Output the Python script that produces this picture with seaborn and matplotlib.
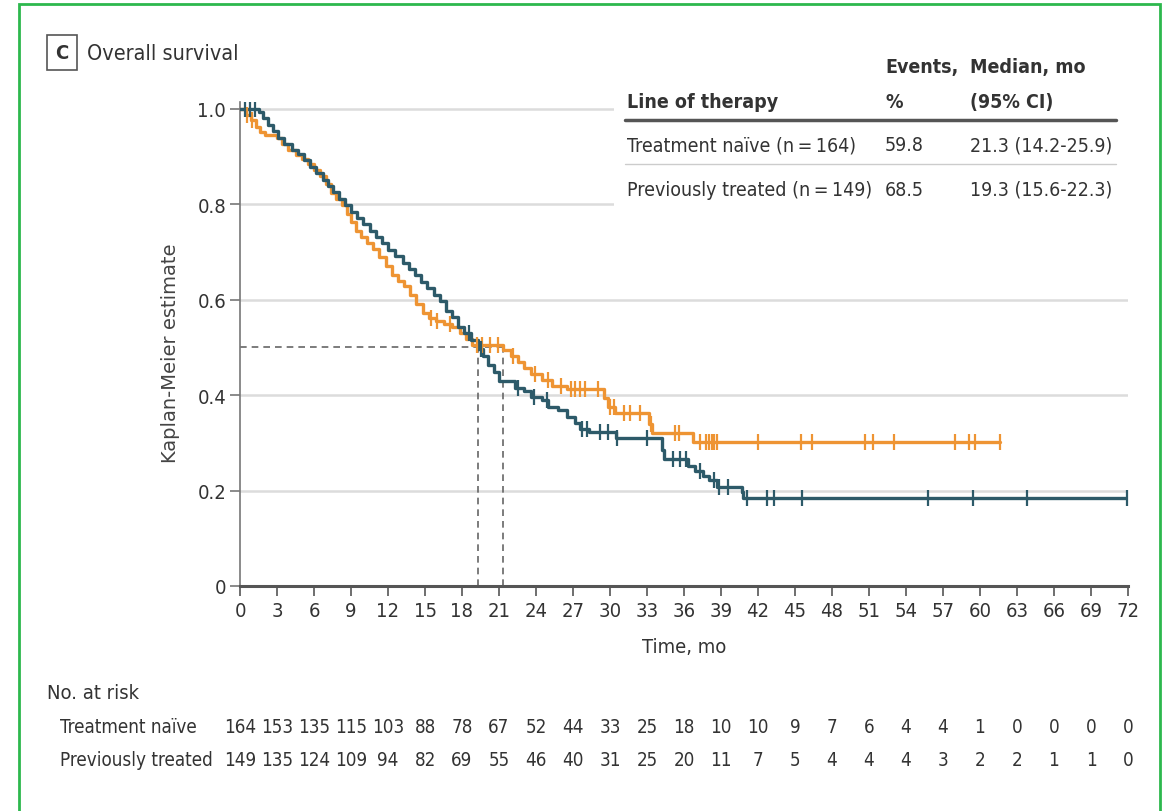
import numpy as np
import pandas as pd
import matplotlib
matplotlib.use("Agg")
import matplotlib.pyplot as plt
import matplotlib.transforms as mtransforms
from matplotlib.patches import Rectangle
from matplotlib import font_manager
import seaborn as sns

# ---------------- data ----------------
groups = ["Treatment naïve", "Previously treated"]

naive_time = [0, 0.5, 0.9, 1.3, 1.6, 2.0, 3.0, 3.4, 3.9, 4.5, 5.0, 5.5, 6.0, 6.5, 7.0, 7.4, 7.8,
              8.3, 8.7, 9.0, 9.4, 9.8, 10.3, 10.8, 11.3, 11.8, 12.3, 12.8, 13.3, 13.8, 14.3, 14.8,
              15.3, 15.9, 16.5, 17.2, 17.8, 18.3, 18.8, 21.3, 22.0, 22.5, 23.0, 23.6, 24.5, 25.3,
              26.5, 29.5, 29.8, 30.4, 33.2, 33.4, 36.7, 61.6]
naive_surv = [1.0, 0.988, 0.976, 0.963, 0.951, 0.945, 0.939, 0.927, 0.915, 0.903, 0.896, 0.884,
              0.872, 0.860, 0.842, 0.823, 0.811, 0.799, 0.780, 0.762, 0.744, 0.732, 0.720, 0.707,
              0.689, 0.671, 0.652, 0.640, 0.628, 0.610, 0.591, 0.573, 0.561, 0.555, 0.549, 0.543,
              0.530, 0.518, 0.506, 0.494, 0.482, 0.469, 0.457, 0.445, 0.432, 0.420, 0.414, 0.395,
              0.375, 0.362, 0.340, 0.321, 0.302, 0.302]
naive_censor = [0.6, 1.0, 15.5, 16.0, 17.0, 19.2, 19.6, 20.3, 20.9, 22.1, 23.9, 25.0, 26.0, 26.8,
                27.2, 27.6, 28.0, 29.0, 30.0, 30.3, 31.1, 31.6, 32.4, 33.3, 35.3, 35.6, 37.3, 37.8,
                38.0, 38.3, 38.4, 38.7, 42.0, 45.5, 46.4, 50.7, 51.3, 53.0, 58.0, 59.1, 59.6, 61.6]

treated_time = [0, 1.5, 1.9, 2.3, 2.7, 3.1, 3.6, 4.2, 4.7, 5.2, 5.7, 6.2, 6.7, 7.1, 7.5, 8.0, 8.5,
                9.0, 9.5, 10.0, 10.5, 11.0, 11.5, 12.0, 12.6, 13.2, 13.7, 14.2, 14.7, 15.2, 15.7,
                16.2, 16.7, 17.2, 17.7, 18.2, 18.7, 19.3, 19.7, 20.1, 20.6, 21.0, 22.3, 23.0, 23.6,
                24.5, 25.0, 25.8, 26.5, 27.2, 27.6, 28.3, 30.5, 34.2, 34.4, 36.3, 36.9, 37.5, 38.0,
                38.7, 40.7, 40.8, 71.9]
treated_surv = [1.0, 0.993, 0.980, 0.966, 0.953, 0.940, 0.926, 0.913, 0.906, 0.893, 0.879, 0.866,
                0.852, 0.839, 0.826, 0.812, 0.799, 0.785, 0.772, 0.758, 0.745, 0.731, 0.718, 0.705,
                0.691, 0.678, 0.664, 0.651, 0.637, 0.624, 0.610, 0.597, 0.577, 0.563, 0.543, 0.530,
                0.516, 0.496, 0.483, 0.463, 0.449, 0.429, 0.416, 0.409, 0.396, 0.389, 0.376, 0.369,
                0.355, 0.342, 0.329, 0.322, 0.310, 0.285, 0.266, 0.252, 0.241, 0.230, 0.222, 0.208,
                0.196, 0.185, 0.185]
treated_censor = [0.4, 0.8, 1.2, 18.6, 19.5, 22.5, 23.8, 24.9, 27.7, 28.1, 29.2, 29.8, 30.6, 33.0,
                  35.1, 35.7, 36.2, 37.3, 38.4, 38.8, 39.6, 41.1, 42.7, 43.3, 45.6, 55.8, 59.4,
                  63.8, 71.9]

medians = [21.3, 19.3]
events_pct = ["59.8", "68.5"]
median_ci = ["21.3 (14.2-25.9)", "19.3 (15.6-22.3)"]
n_total = [164, 149]

risk_times = list(range(0, 73, 3))
risk_naive = [164, 153, 135, 115, 103, 88, 78, 67, 52, 44, 33, 25, 18, 10, 10, 9, 7, 6, 4, 4, 1, 0, 0, 0, 0]
risk_treated = [149, 135, 124, 109, 94, 82, 69, 55, 46, 40, 31, 25, 20, 11, 7, 5, 4, 4, 4, 3, 2, 2, 1, 1, 0]

# ---------------- style ----------------
ORANGE = "#EE9433"
TEAL = "#2D5A69"
palette = {groups[0]: ORANGE, groups[1]: TEAL}

sns.set_theme(style="white")

cond_family = None
cond_stretch = "normal"
for f in font_manager.fontManager.ttflist:
    if f.stretch in ("condensed", "semi-condensed", "extra-condensed") or "Narrow" in f.name or "Condensed" in f.name:
        if f.style == "normal":
            cond_family = f.name
            cond_stretch = f.stretch
            break
if cond_family is not None:
    plt.rcParams["font.family"] = [cond_family, "DejaVu Sans"]
    plt.rcParams["font.stretch"] = cond_stretch
    SZ = 14.5
else:
    plt.rcParams["font.family"] = ["Liberation Sans", "DejaVu Sans"]
    SZ = 13.5
RSZ = SZ - 1
TXT = "#333333"
THIN = "\u2009"

W, H = 1166, 812
fig = plt.figure(figsize=(W / 100, H / 100), dpi=100)
fig.patch.set_facecolor("white")


def fx(x):
    return x / W


def fy(y):
    return 1 - y / H


ax = fig.add_axes([fx(240), fy(587), (1128 - 240) / W, (587 - 102.8) / H])

curve_df = pd.concat([
    pd.DataFrame({"time": naive_time, "surv": naive_surv, "group": groups[0]}),
    pd.DataFrame({"time": treated_time, "surv": treated_surv, "group": groups[1]}),
], ignore_index=True)

for g in groups:
    sns.lineplot(data=curve_df[curve_df.group == g], x="time", y="surv", color=palette[g],
                 drawstyle="steps-post", estimator=None, sort=False, lw=2.4, ax=ax,
                 legend=False, zorder=3)


def step_value(times, survs, t):
    i = np.searchsorted(np.asarray(times), t, side="right") - 1
    return np.asarray(survs)[i]


cens_df = pd.concat([
    pd.DataFrame({"time": naive_censor,
                  "surv": [step_value(naive_time, naive_surv, c) for c in naive_censor],
                  "group": groups[0]}),
    pd.DataFrame({"time": treated_censor,
                  "surv": [step_value(treated_time, treated_surv, c) for c in treated_censor],
                  "group": groups[1]}),
], ignore_index=True)
for g in groups:
    sub = cens_df[cens_df.group == g]
    sns.scatterplot(data=sub, x="time", y="surv", marker="|", s=140, linewidth=1.6,
                    color=palette[g], ax=ax, legend=False, zorder=4)

ax.plot([0, max(medians)], [0.5, 0.5], ls=(0, (4, 3)), color="#666666", lw=1.2, zorder=2)
for m in medians:
    ax.plot([m, m], [0, 0.5], ls=(0, (4, 3)), color="#666666", lw=1.2, zorder=2)

ax.set_xlim(0, 72)
ax.set_ylim(0, 1.015)
ax.set_xticks(risk_times)
ax.set_xticklabels([str(t) for t in risk_times])
ax.set_yticks([0, 0.2, 0.4, 0.6, 0.8, 1.0])
ax.set_yticklabels(["0", "0.2", "0.4", "0.6", "0.8", "1.0"])
ax.grid(axis="y", color="#dcdcdc", lw=1.8)
ax.grid(axis="x", visible=False)
ax.set_axisbelow(True)
for s in ["top", "right"]:
    ax.spines[s].set_visible(False)
ax.spines["left"].set_color("#777777")
ax.spines["left"].set_linewidth(1.2)
ax.spines["bottom"].set_color("#555555")
ax.spines["bottom"].set_linewidth(2.2)
ax.tick_params(axis="x", direction="out", length=7, width=1.2, color="#555555",
               labelsize=SZ, labelcolor=TXT, pad=4, bottom=True)
ax.tick_params(axis="y", direction="out", length=7, width=1.2, color="#777777",
               labelsize=SZ, labelcolor=TXT, pad=3, left=True)
ax.set_xlabel("Time, mo", fontsize=SZ, color=TXT, labelpad=12)
ax.set_ylabel("Kaplan-Meier estimate", fontsize=14, color="#444444",
              family=["DejaVu Sans"], fontstretch="normal")
ax.yaxis.set_label_coords((180 - 240) / 888, 0.483)

fig.text(fx(62), fy(59), "C", fontsize=SZ, fontweight="bold", color=TXT, ha="center",
         va="baseline", bbox=dict(boxstyle="square,pad=0.4", fc="white", ec="#555555", lw=1.2))
fig.text(fx(87), fy(60), "Overall survival", fontsize=SZ + 1, color=TXT, ha="left", va="baseline")

fig.add_artist(Rectangle((fx(614), fy(212)), (1135 - 614) / W, (212 - 30) / H,
                         transform=fig.transFigure, fc="white", ec="none", zorder=5))
tsz = SZ - 0.5
fig.text(fx(627), fy(108), "Line of therapy", fontsize=tsz, color=TXT, fontweight="bold",
         va="baseline", zorder=6)
fig.text(fx(885), fy(73), "Events,", fontsize=tsz, color=TXT, fontweight="bold", va="baseline", zorder=6)
fig.text(fx(885), fy(108), "%", fontsize=tsz, color=TXT, fontweight="bold", va="baseline", zorder=6)
fig.text(fx(970), fy(73), "Median, mo", fontsize=tsz, color=TXT, fontweight="bold", va="baseline", zorder=6)
fig.text(fx(970), fy(108), "(95% CI)", fontsize=tsz, color=TXT, fontweight="bold", va="baseline", zorder=6)
fig.add_artist(plt.Line2D([fx(625), fx(1116)], [fy(121), fy(121)], color="#555555", lw=2.5,
                          transform=fig.transFigure, zorder=6))
fig.add_artist(plt.Line2D([fx(625), fx(1116)], [fy(165), fy(165)], color="#cccccc", lw=1.0,
                          transform=fig.transFigure, zorder=6))
row_y = [151, 196]
for i, g in enumerate(groups):
    fig.text(fx(627), fy(row_y[i]), f"{g} (n{THIN}={THIN}{n_total[i]})", fontsize=tsz, color=TXT,
             va="baseline", zorder=6)
    fig.text(fx(885), fy(row_y[i]), events_pct[i], fontsize=tsz, color=TXT, va="baseline", zorder=6)
    fig.text(fx(970), fy(row_y[i]), median_ci[i], fontsize=tsz, color=TXT, va="baseline", zorder=6)

blend = mtransforms.blended_transform_factory(ax.transData, fig.transFigure)
fig.text(fx(47), fy(699), "No. at risk", fontsize=SZ, color=TXT, va="baseline")
fig.text(fx(60), fy(733), groups[0], fontsize=RSZ, color=TXT, va="baseline")
fig.text(fx(60), fy(766), groups[1], fontsize=RSZ, color=TXT, va="baseline")
for t, a, b in zip(risk_times, risk_naive, risk_treated):
    ax.text(t, fy(733), str(a), transform=blend, ha="center", va="baseline", fontsize=RSZ,
            color=TXT, clip_on=False)
    ax.text(t, fy(766), str(b), transform=blend, ha="center", va="baseline", fontsize=RSZ,
            color=TXT, clip_on=False)

fig.add_artist(Rectangle((fx(19), -0.05), (1160 - 19) / W, fy(5) + 0.05,
                         transform=fig.transFigure, fc="none", ec="#2DB84D", lw=2.0, zorder=10))

fig.savefig("out.png", dpi=100, facecolor="white")
